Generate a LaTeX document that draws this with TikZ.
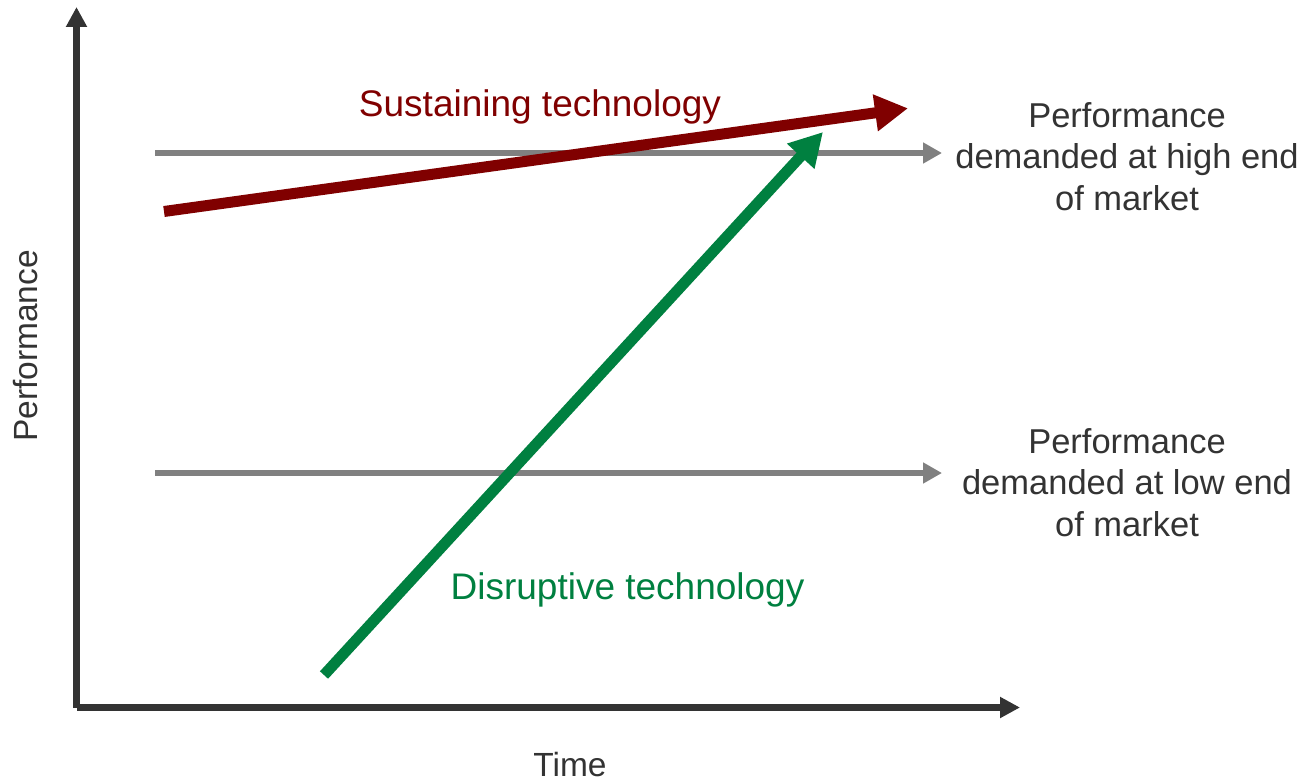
\documentclass[tikz,border=0pt]{standalone}
\usepackage{fontspec}
\setmainfont{Liberation Sans}
\usepackage{xcolor}
\usepackage{tikz}
\usetikzlibrary{arrows.meta}
\definecolor{axisgray}{HTML}{333333}
\definecolor{demandgray}{HTML}{808080}
\definecolor{sustainred}{HTML}{800000}
\definecolor{disruptgreen}{RGB}{0,128,64}
\tikzset{
  axisline/.style={
    draw = axisgray,
    line width = 3.4pt,
    -{Triangle[length=10pt, width=10pt]}
  },
  demandline/.style={
    draw = demandgray,
    line width = 3.2pt,
    -{Triangle[length=9.5pt, width=10pt]}
  },
  techline/.style={
    draw = #1,
    line width = 5.5pt,
    -{Triangle[length=16.5pt, width=17.5pt]}
  }
}
\tikzset{
  axistext/.style={font=\fontsize{16.75}{20}\selectfont, text=axisgray, inner sep=0pt},
  demandtext/.style={font=\fontsize{17.25}{20.75}\selectfont, text=axisgray, align=center},
  techtext/.style={font=\fontsize{18.5}{22}\selectfont, text=#1, anchor=base}
}

\begin{document}
\begin{tikzpicture}[x=0.5pt, y=-0.5pt]
\useasboundingbox (0,0) rectangle (1305,781);
\newcommand\XOrig{76.5}
\newcommand\YOrig{707.5}
\coordinate (O) at (\XOrig,\YOrig);
\coordinate (Ytop) at (\XOrig,7);
\coordinate (Xend) at (1020,\YOrig);
\coordinate (H0) at (155,153);
\coordinate (H1) at (942,153);
\coordinate (L0) at (155,473);
\coordinate (L1) at (942,473);
\coordinate (S0) at (164,211.5);
\coordinate (S1) at (908,108.3);
\coordinate (D0) at (324,675);
\coordinate (D1) at (823,132);

\node[axistext, rotate=90, anchor=base] (Ylab) at (37,346) {Performance};
\node[axistext, anchor=base] (Xlab) at (570,776) {Time};
\node[demandtext] (Hlab) at (1127,156.5) {Performance\\demanded at high end\\of market};
\node[demandtext] (Llab) at (1127,482.5) {Performance\\demanded at low end\\of market};
\node[techtext=sustainred] (Slab) at (540,117) {Sustaining technology};
\node[techtext=disruptgreen] (Dlab) at (627.5,599) {Disruptive technology};

\path (O) edge[axisline] (Ytop)
      (O) edge[axisline] (Xend);

\path (H0) edge[demandline] (H1)
      (L0) edge[demandline] (L1);

\path (D0) edge[techline=disruptgreen] (D1)
      (S0) edge[techline=sustainred] (S1);
\end{tikzpicture}
\end{document}
